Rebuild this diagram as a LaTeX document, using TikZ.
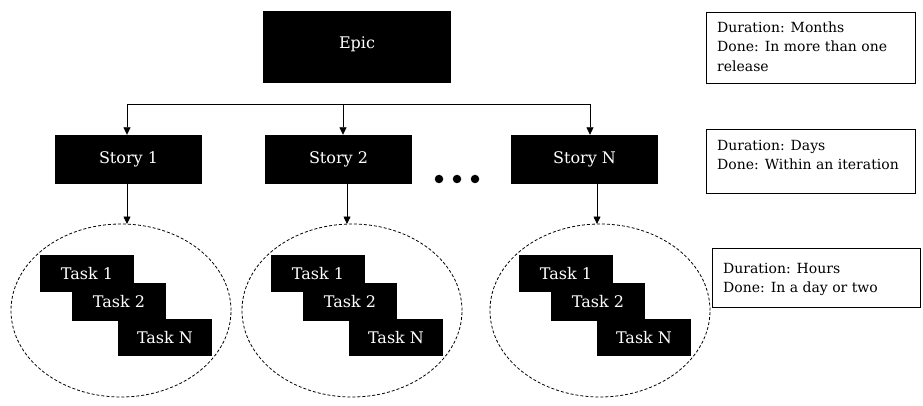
\documentclass[tikz,border=0pt]{standalone}
\usepackage{fontspec}
\setmainfont{DejaVu Serif}
\usetikzlibrary{shapes.geometric,arrows.meta,calc}
\begin{document}
\begin{tikzpicture}[x=1pt,y=-1pt,
  blackbox/.style={rectangle,fill=black,text=white,inner sep=0pt,font=\fontsize{16}{18}\selectfont},
  taskbox/.style={blackbox,minimum width=94pt,minimum height=37pt},
  storybox/.style={blackbox,minimum width=147pt,minimum height=49pt},
  taskcloud/.style={ellipse,draw=black,dash pattern=on 3pt off 2pt,line width=0.8pt,minimum width=220pt,minimum height=173pt,inner sep=0pt},
  infobox/.style={rectangle,draw=black,line width=0.9pt,inner sep=0pt},
  infotext/.style={inner sep=0pt,anchor=north west,align=left,font=\fontsize{14}{19.5}\selectfont},
  conn/.style={line width=0.8pt},
  arr/.style={conn,-{Triangle[length=7.5pt,width=7pt]}},
  dot/.style={circle,fill=black,inner sep=0pt,minimum size=8.5pt}]
\useasboundingbox (0,0) rectangle (923,406);
% Epic
\node[blackbox,minimum width=188pt,minimum height=72pt] (epic) at (357,47) {};
\node[text=white,inner sep=0pt,font=\fontsize{16}{18}\selectfont] (epict) at (357,44) {Epic};
% Stories
\node[storybox] (s1) at (128.5,159.5) {Story 1};
\node[storybox] (s2) at (338.5,159.5) {Story 2};
\node[storybox] (sN) at (584.5,159.5) {Story N};
% dots
\node[dot] (d1) at (439,179) {};
\node[dot] (d2) at (457,179) {};
\node[dot] (d3) at (475,179) {};
% bus
\coordinate (b1) at (127,104);
\coordinate (b2) at (343,104);
\coordinate (bN) at (590,104);
\draw[conn] (b1) -- (bN);
\draw[arr] (b1) -- (b1 |- s1.north);
\draw[arr] (b2) -- (b2 |- s2.north);
\draw[arr] (bN) -- (bN |- sN.north);
% ellipses
\node[taskcloud] (e1) at (121,310.5) {};
\node[taskcloud] (e2) at (352,310.5) {};
\node[taskcloud] (e3) at (600,310.5) {};
\coordinate (a1) at (127,224);
\coordinate (a2) at (347,224);
\coordinate (a3) at (597,224);
\draw[arr] (a1 |- s1.south) -- (a1);
\draw[arr] (a2 |- s2.south) -- (a2);
\draw[arr] (a3 |- sN.south) -- (a3);
% tasks
\foreach \i/\dx in {1/0,2/231,3/479}{
  \node[taskbox] (t\i a) at (87+\dx,273.5) {Task 1};
  \node[taskbox,minimum height=38pt] (t\i b) at (119+\dx,302) {Task 2};
  \node[taskbox] (t\i c) at (165+\dx,337.5) {Task N};
}
% info boxes
\node[infobox,minimum width=209pt,minimum height=71pt] (i1) at (810.5,47.5) {};
\node[infotext] (i1t) at (717,21.5) {Duration: Months\\Done: In more than one\\release};
\node[infobox,minimum width=209pt,minimum height=64pt] (i2) at (810.5,161) {};
\node[infotext] (i2t) at (717,139.5) {Duration: Days\\Done: Within an iteration};
\node[infobox,minimum width=208pt,minimum height=59pt] (i3) at (816,277.5) {};
\node[infotext] (i3t) at (723,262.5) {Duration: Hours\\Done: In a day or two};
\end{tikzpicture}
\end{document}
